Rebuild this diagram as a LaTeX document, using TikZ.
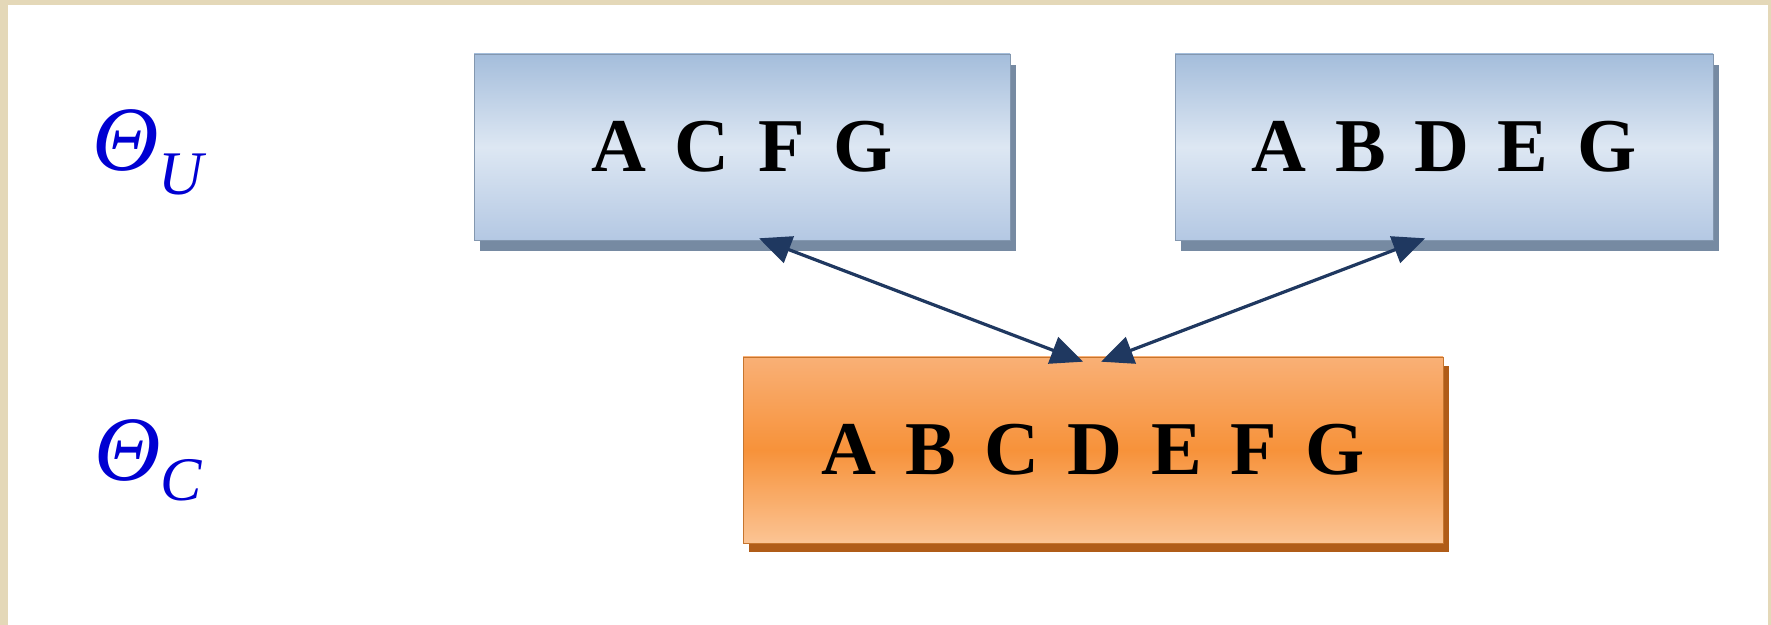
\documentclass[tikz,border=0pt]{standalone}
\usepackage{fontspec}
\setmainfont{Liberation Serif}
\newfontfamily\boxfont[WordSpace=1.5]{Liberation Serif}
\usetikzlibrary{arrows.meta}
\definecolor{framebeige}{RGB}{228,216,184}
\definecolor{bluetop}{RGB}{164,189,219}
\definecolor{bluemid}{RGB}{221,231,243}
\definecolor{bluebot}{RGB}{180,200,227}
\definecolor{blueshade}{RGB}{118,138,162}
\definecolor{orangetop}{RGB}{249,176,118}
\definecolor{orangemid}{RGB}{247,146,58}
\definecolor{orangebot}{RGB}{251,196,148}
\definecolor{orangeshade}{RGB}{176,92,24}
\definecolor{linknavy}{RGB}{31,56,96}
\definecolor{labelblue}{RGB}{0,0,210}
\begin{document}
\begin{tikzpicture}[x=0.5pt,y=-0.5pt,
  setbox/.style={minimum height=93pt,inner sep=0pt,
    font=\boxfont\bfseries\fontsize{38}{38}\selectfont},
  ubox/.style={setbox,top color=bluetop,bottom color=bluebot,middle color=bluemid,
    draw=bluetop!80!black,line width=0.3pt,
    preaction={fill=blueshade,transform canvas={shift={(3pt,-5.5pt)}}}},
  cbox/.style={setbox,top color=orangetop,bottom color=orangebot,middle color=orangemid,
    draw=orangemid!80!black,line width=0.3pt,
    preaction={fill=orangeshade,transform canvas={shift={(3pt,-4.5pt)}}}},
  setlabel/.style={text=labelblue,inner sep=0pt},
  link/.style={draw=linknavy,line width=1.6pt,
    {Triangle[length=16pt,width=14pt]}-{Triangle[length=16pt,width=14pt]}}]
  % Background and frame
  \useasboundingbox (0,0) rectangle (1771,625);
  \fill[framebeige] (0,0) rectangle (1771,625);
  \fill[white] (8,5) rectangle (1768,625);
  % Set labels
  \node[setlabel] (thetaU) at (148,152)
    {{\itshape\fontsize{46}{46}\selectfont Θ}\raisebox{-12pt}{\itshape\fontsize{31}{31}\selectfont U}};
  \node[setlabel] (thetaC) at (148,460)
    {{\itshape\fontsize{46}{46}\selectfont Θ}\raisebox{-10pt}{\itshape\fontsize{31}{31}\selectfont C}};
  % Boxes
  \node[ubox,minimum width=268pt] (acfg) at (742,147) {A C F G};
  \node[ubox,minimum width=269pt] (abdeg) at (1444,147) {A B D E G};
  \node[cbox,minimum width=350pt] (abcdefg) at (1093,450) {A B C D E F G};
  % Links
  \draw[link] ([xshift=8.5pt,yshift=1pt]acfg.south) -- ([xshift=-5pt,yshift=-2.5pt]abcdefg.north);
  \draw[link] ([xshift=-9.5pt,yshift=1pt]abdeg.south) -- ([xshift=4pt,yshift=-2.5pt]abcdefg.north);
\end{tikzpicture}
\end{document}
